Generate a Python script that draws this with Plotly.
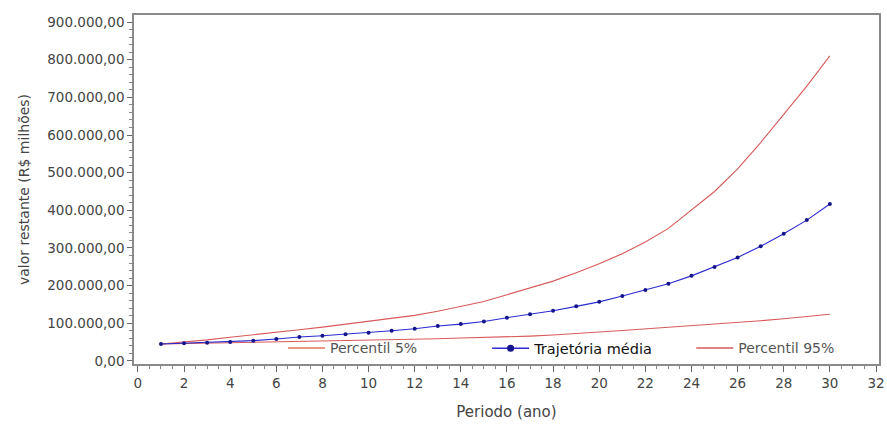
import plotly.graph_objects as go

periodo = list(range(1, 31))
trajetoria_media = [45000, 47000, 48600, 50400, 54000, 58400, 63700, 67000, 71000, 75000,
                    80400, 85700, 93000, 98000, 105000, 115000, 124000, 133500, 145000, 157000,
                    172500, 188500, 205000, 226000, 249500, 275000, 304500, 338000, 374000, 417000]
percentil_95 = [45000, 50000, 56000, 63000, 69000, 76000, 83000, 90000, 98000, 106000,
                114000, 121000, 132000, 144000, 158000, 176000, 193000, 212000, 234000, 258000,
                285000, 316000, 352000, 400000, 450000, 510000, 580000, 655000, 730000, 810000]
percentil_5 = [45000, 46000, 47000, 48000, 49000, 50000, 51000, 53000, 54000, 55000,
               57000, 58000, 59000, 61000, 62000, 64000, 66000, 69000, 72000, 77000,
               81000, 85000, 90000, 94000, 98000, 102000, 107000, 112000, 118000, 124000]
x_ticks = list(range(0, 33, 2))
y_ticks = list(range(0, 900001, 100000))

red = "#d85a5a"
red5 = "#e59a86"
blue_line = "#2b2bd0"
blue_dot = "#14148c"
font_fam = "DejaVu Sans, Liberation Sans, Arial, sans-serif"

fig = go.Figure()
fig.add_trace(go.Scatter(x=periodo, y=percentil_95, mode="lines", showlegend=False,
                         line=dict(color=red, width=1.1)))
fig.add_trace(go.Scatter(x=periodo, y=percentil_5, mode="lines", showlegend=False,
                         line=dict(color=red, width=1.1)))
fig.add_trace(go.Scatter(x=periodo, y=trajetoria_media, mode="lines+markers", showlegend=False,
                         line=dict(color=blue_line, width=1.1),
                         marker=dict(color=blue_dot, size=4)))

# legend entries (one legend box per entry so each sits where the reference has it)
fig.add_trace(go.Scatter(x=[None], y=[None], mode="lines", name="Percentil 5%",
                         line=dict(color=red5, width=2), legend="legend"))
fig.add_trace(go.Scatter(x=[None], y=[None], mode="lines+markers", name="Trajetória média",
                         line=dict(color=blue_line, width=1.5),
                         marker=dict(color=blue_dot, size=7), legend="legend2"))
fig.add_trace(go.Scatter(x=[None], y=[None], mode="lines", name="Percentil 95%",
                         line=dict(color=red, width=1.5), legend="legend3"))

leg_common = dict(orientation="h", xanchor="left", y=0.045, yanchor="middle",
                  bgcolor="rgba(0,0,0,0)", itemwidth=37)

fig.update_layout(
    width=887, height=427,
    margin=dict(l=134, r=8, t=15, b=63),
    plot_bgcolor="white", paper_bgcolor="white",
    separators=",.",
    font=dict(family=font_fam, size=13, color="#444"),
    legend=dict(x=0.2, font=dict(size=14, color="#555"), **leg_common),
    legend2=dict(x=0.474, font=dict(size=14.5, color="#111"), **leg_common),
    legend3=dict(x=0.748, font=dict(size=14, color="#555"), **leg_common),
)
fig.update_xaxes(
    range=[-0.17, 32.13], tickvals=x_ticks, showgrid=False, zeroline=False, automargin=False,
    showline=True, mirror=True, linecolor="#8a8a8a", linewidth=1.5,
    ticks="outside", ticklen=6, tickcolor="#666",
    minor=dict(dtick=0.5, ticks="outside", ticklen=3, tickcolor="#888", showgrid=False),
    tickfont=dict(size=13.5, color="#444"),
    title=dict(text="Periodo (ano)", font=dict(size=15, color="#444"), standoff=17),
)
fig.update_yaxes(
    range=[-8000, 918600], tickvals=y_ticks, tickformat=",.2f", showgrid=False, zeroline=False,
    automargin=False,
    showline=True, mirror=True, linecolor="#8a8a8a", linewidth=1.5,
    ticks="outside", ticklen=5, tickcolor="#666",
    minor=dict(dtick=20000, ticks="outside", ticklen=3, tickcolor="#888", showgrid=False),
    tickfont=dict(size=13.5, color="#444"),
    title=dict(text="valor restante (R$ milhões)", font=dict(size=14, color="#444"), standoff=14),
)

fig.write_html("out.html", config={"displayModeBar": False})

# remove the browser's default page margin so the figure fills the 887x427 window exactly
with open("out.html", "r", encoding="utf-8") as f:
    html = f.read()
html = html.replace("<head>", "<head><style>html,body{margin:0;padding:0;overflow:hidden;}</style>", 1)
with open("out.html", "w", encoding="utf-8") as f:
    f.write(html)
